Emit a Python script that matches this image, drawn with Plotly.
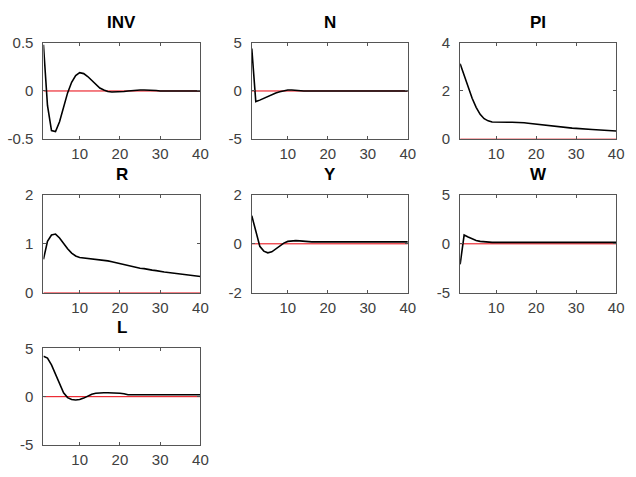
import plotly.graph_objects as go

periods = list(range(1, 41))

titles = ["INV", "N", "PI", "R", "Y", "W", "L"]

INV = [0.48, -0.15, -0.41, -0.42, -0.32, -0.17, -0.02, 0.09, 0.16, 0.19,
       0.18, 0.15, 0.11, 0.07, 0.03, 0.01, -0.005, -0.01, -0.01, -0.01,
       -0.005, 0.0, 0.005, 0.01, 0.01, 0.01, 0.01, 0.01, 0.005, 0.0,
       0.0, 0.0, 0.0, 0.0, 0.0, 0.0, 0.0, 0.0, 0.0, 0.0]
N = [4.4, -1.1, -0.95, -0.75, -0.55, -0.35, -0.2, -0.08, 0.03, 0.1,
     0.1, 0.05, 0.02, 0.0, 0.0, 0.0, 0.0, 0.0, 0.0, 0.0,
     0.0, 0.0, 0.0, 0.0, 0.0, 0.0, 0.0, 0.0, 0.0, 0.0,
     0.0, 0.0, 0.0, 0.0, 0.0, 0.0, 0.0, 0.0, 0.0, 0.0]
PI = [3.13, 2.65, 2.15, 1.7, 1.32, 1.03, 0.85, 0.76, 0.71, 0.70,
      0.70, 0.70, 0.70, 0.70, 0.70, 0.69, 0.68, 0.66, 0.64, 0.62,
      0.60, 0.58, 0.56, 0.54, 0.52, 0.50, 0.49, 0.47, 0.46, 0.45,
      0.43, 0.42, 0.41, 0.40, 0.39, 0.38, 0.37, 0.36, 0.35, 0.34]
R = [0.68, 1.05, 1.18, 1.20, 1.12, 1.00, 0.90, 0.81, 0.75, 0.72,
     0.71, 0.70, 0.70, 0.69, 0.68, 0.67, 0.65, 0.63, 0.61, 0.60,
     0.58, 0.56, 0.54, 0.52, 0.50, 0.49, 0.47, 0.46, 0.45, 0.43,
     0.42, 0.41, 0.40, 0.39, 0.38, 0.37, 0.36, 0.35, 0.34, 0.33]
Y = [1.15, 0.5, -0.1, -0.3, -0.37, -0.33, -0.22, -0.08, 0.03, 0.1,
     0.13, 0.13, 0.12, 0.1, 0.09, 0.08, 0.08, 0.08, 0.08, 0.08,
     0.08, 0.08, 0.08, 0.08, 0.08, 0.08, 0.08, 0.08, 0.08, 0.08,
     0.08, 0.08, 0.08, 0.08, 0.08, 0.08, 0.08, 0.08, 0.08, 0.08]
W = [-2.1, 0.9, 0.7, 0.5, 0.35, 0.25, 0.2, 0.15, 0.15, 0.15,
     0.15, 0.15, 0.15, 0.15, 0.15, 0.15, 0.15, 0.15, 0.15, 0.15,
     0.15, 0.15, 0.15, 0.15, 0.15, 0.15, 0.15, 0.15, 0.15, 0.15,
     0.15, 0.15, 0.15, 0.15, 0.15, 0.15, 0.15, 0.15, 0.15, 0.15]
L = [4.2, 4.0, 3.3, 2.3, 1.3, 0.4, -0.1, -0.3, -0.35, -0.3,
     -0.15, 0.05, 0.25, 0.35, 0.4, 0.4, 0.4, 0.4, 0.4, 0.35,
     0.3, 0.2, 0.2, 0.2, 0.2, 0.2, 0.2, 0.2, 0.2, 0.2,
     0.2, 0.2, 0.2, 0.2, 0.2, 0.2, 0.2, 0.2, 0.2, 0.2]
zero_line = [0.0] * 40

series = [INV, N, PI, R, Y, W, L]
y_ranges = [[-0.5, 0.5], [-5, 5], [0, 4], [0, 2], [-2, 2], [-5, 5], [-5, 5]]
y_ticks = [[-0.5, 0, 0.5], [-5, 0, 5], [0, 2, 4], [0, 1, 2], [-2, 0, 2], [-5, 0, 5], [-5, 0, 5]]
y_ticktext = [["-0.5", "0", "0.5"], ["-5", "0", "5"], ["0", "2", "4"], ["0", "1", "2"],
              ["-2", "0", "2"], ["-5", "0", "5"], ["-5", "0", "5"]]
x_ticks = [10, 20, 30, 40]

W_PX, H_PX = 636, 477
col_px = [(44, 203), (255, 413), (466, 624)]
row_px = [(35, 135), (193, 294), (352, 452)]

fig = go.Figure()
font = "Liberation Sans, Arial, Helvetica, sans-serif"
tick_col = "#404040"
axis_col = "#555555"

for i, (name, vals) in enumerate(zip(titles, series)):
    r, c = divmod(i, 3)
    k = "" if i == 0 else str(i + 1)
    xa, ya = "x" + k, "y" + k
    fig.add_trace(go.Scatter(x=periods, y=zero_line, mode="lines",
                             line=dict(color="#e8000b", width=1), xaxis=xa, yaxis=ya,
                             showlegend=False, hoverinfo="skip"))
    fig.add_trace(go.Scatter(x=periods, y=vals, mode="lines",
                             line=dict(color="black", width=1.6), xaxis=xa, yaxis=ya,
                             showlegend=False))
    x0, x1 = col_px[c]
    y0, y1 = row_px[r]
    xd = [x0 / W_PX, x1 / W_PX]
    yd = [1 - y1 / H_PX, 1 - y0 / H_PX]
    common = dict(showline=True, linecolor=axis_col, linewidth=1, mirror="ticks",
                  ticks="inside", ticklen=3, tickcolor=axis_col, showgrid=False,
                  zeroline=False, tickfont=dict(family=font, size=15, color=tick_col))
    fig.layout["xaxis" + k] = dict(domain=xd, range=[1, 40], tickvals=x_ticks,
                                   anchor=ya, ticklabelstandoff=1, **common)
    fig.layout["yaxis" + k] = dict(domain=yd, range=y_ranges[i], tickvals=y_ticks[i],
                                   ticktext=y_ticktext[i], anchor=xa,
                                   ticklabelstandoff=6, **common)
    fig.add_annotation(text="<b>" + name + "</b>", x=(xd[0] + xd[1]) / 2, y=yd[1],
                       xref="paper", yref="paper", xanchor="center", yanchor="bottom",
                       yshift=9, showarrow=False,
                       font=dict(family=font, size=17, color="black"))

fig.update_layout(width=W_PX, height=H_PX, margin=dict(l=0, r=0, t=0, b=0),
                  paper_bgcolor="white", plot_bgcolor="white")
fig.write_html("out.html", config={"displayModeBar": False},
               post_script="document.body.style.margin='0';document.body.style.padding='0';")
